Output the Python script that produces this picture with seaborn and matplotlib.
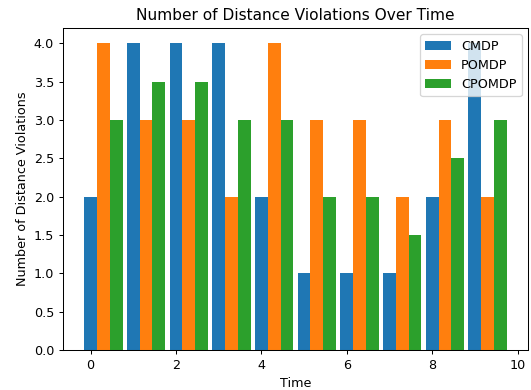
import matplotlib
matplotlib.use("Agg")
import matplotlib.pyplot as plt
import seaborn as sns
import numpy as np
import pandas as pd

time = [0, 1, 2, 3, 4, 5, 6, 7, 8, 9]
cmdp = [2, 4, 4, 4, 2, 1, 1, 1, 2, 4]
pomdp = [4, 3, 3, 2, 4, 3, 3, 2, 3, 2]
cpomdp = [3, 3.5, 3.5, 3, 3, 2, 2, 1.5, 2.5, 3]
series_names = ["CMDP", "POMDP", "CPOMDP"]

DPI = 92
fig = plt.figure(figsize=(531 / DPI, 390 / DPI), dpi=DPI)
ax = fig.add_axes([0.1186, 0.1026, 0.8757, 0.8256])

width = 0.3
colors = ["#1f77b4", "#ff7f0e", "#2ca02c"]
for i, (name, vals) in enumerate(zip(series_names, [cmdp, pomdp, cpomdp])):
    df = pd.DataFrame({"Time": np.array(time) + i * width, "v": vals})
    sns.barplot(data=df, x="Time", y="v", native_scale=True, width=width,
                color=colors[i], saturation=1, errorbar=None, label=name, ax=ax)

ax.set_xlim(-0.645, 10.245)
ax.set_ylim(0, 4.2)
ax.set_xticks([0, 2, 4, 6, 8, 10])
ax.set_yticks(np.arange(0, 4.01, 0.5))
ax.set_xlabel("Time")
ax.set_ylabel("Number of Distance Violations")
ax.set_title("Number of Distance Violations Over Time")
ax.legend(loc="upper right")
fig.savefig("out.png", dpi=DPI)
